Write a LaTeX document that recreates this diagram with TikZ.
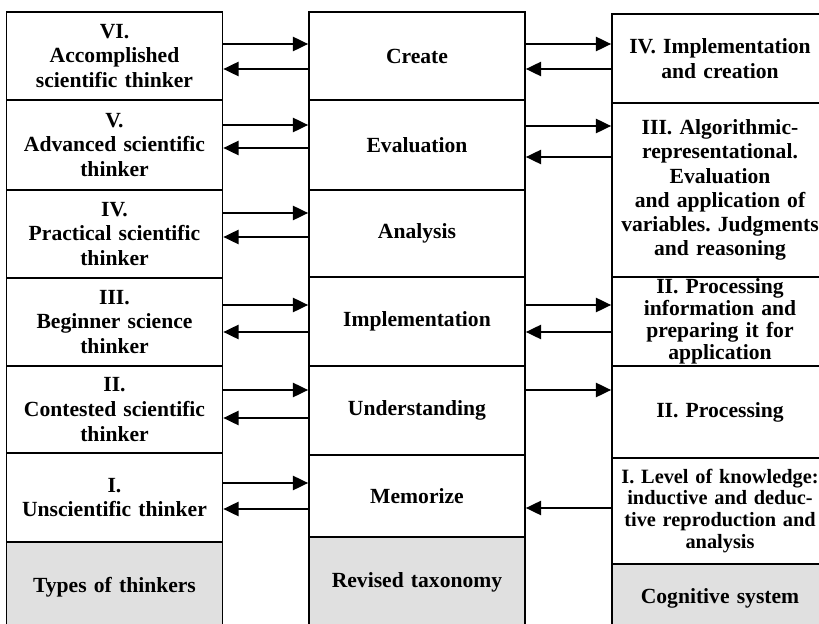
\documentclass[tikz,border=0pt]{standalone}
\usepackage{fontspec}
\setmainfont{Liberation Serif}
\usetikzlibrary{arrows.meta}
\frenchspacing

\begin{document}
\begin{tikzpicture}[x=0.5556pt,y=-0.5556pt,
  cell/.style={shape=rectangle,draw,line width=1pt,minimum width=120pt,
    inner xsep=0pt,inner ysep=0pt,text width=120pt,align=center,
    font=\fontsize{12}{13.8}\selectfont\bfseries},
  head/.style={cell,fill=black!12},
  conn/.style={-{Triangle[length=8.5pt,width=8pt]},line width=0.9pt}]
\useasboundingbox (0,0) rectangle (819,624);
\clip (0,0) rectangle (819,624);
% types of thinkers
\node(t6) at (114.5,56)[cell,minimum height=48.9pt]  {VI.\\ Accomplished\\ scientific thinker};
\node(t5) at (114.5,145)[cell,minimum height=50pt]   {V.\\ Advanced scientific\\ thinker};
\node(t4) at (114.5,234)[cell,minimum height=48.9pt] {IV.\\ Practical scientific\\ thinker};
\node(t3) at (114.5,322)[cell,minimum height=48.9pt] {III.\\ Beginner science\\ thinker};
\node(t2) at (114.5,409.5)[cell,minimum height=48.3pt] {II.\\ Contested scientific\\ thinker};
\node(t1) at (114.5,497.5)[cell,minimum height=49.4pt] {I.\\ Unscientific thinker};
\node(t0) at (114.5,587)[head,minimum height=50pt]   {Types of thinkers};
% revised taxonomy
\node(r6) at (417,56)[cell,minimum height=48.9pt]    {Create};
\node(r5) at (417,145)[cell,minimum height=50pt]     {Evaluation};
\node(r4) at (417,233.5)[cell,minimum height=48.3pt] {Analysis};
\node(r3) at (417,321.5)[cell,minimum height=49.4pt] {Implementation};
\node(r2) at (417,410.5)[cell,minimum height=49.4pt] {Understanding};
\node(r1) at (417,496)[cell,minimum height=45.6pt]   {Memorize};
\node(r0) at (417,582)[head,minimum height=50pt]     {Revised taxonomy};
% cognitive system
\node(c4) at (720,58.5)[cell,minimum height=49.4pt]  {IV. Implementation\\ and creation};
\node(c3) at (720,190)[cell,minimum height=96.7pt,font=\fontsize{12}{13.4}\selectfont\bfseries]
  {III. Algorithmic-\\ representational.\\ Evaluation\\ and application of\\ variables. Judgments\\ and reasoning};
\node(c2b) at (720,321.5)[cell,minimum height=49.4pt,font=\fontsize{12}{12.2}\selectfont\bfseries]
  {II. Processing\\ information and\\ preparing it for\\ application};
\node(c2) at (720,412)[cell,minimum height=51.1pt]   {II. Processing};
\node(c1) at (720,511)[cell,minimum height=58.9pt,font=\fontsize{11.3}{12.2}\selectfont\bfseries]
  {I. Level of knowledge:\\ inductive and deduc-\\ tive reproduction and\\ analysis};
\node(c0) at (720,598)[head,minimum height=37.8pt]   {Cognitive system};
\path [conn]
  (t6.east |- 0,44)  edge (r6.west |- 0,44)
  (r6.west |- 0,69)  edge (t6.east |- 0,69)
  (t5.east |- 0,125) edge (r5.west |- 0,125)
  (r5.west |- 0,148) edge (t5.east |- 0,148)
  (t4.east |- 0,213) edge (r4.west |- 0,213)
  (r4.west |- 0,237) edge (t4.east |- 0,237)
  (t3.east |- 0,305) edge (r3.west |- 0,305)
  (r3.west |- 0,332) edge (t3.east |- 0,332)
  (t2.east |- 0,390) edge (r2.west |- 0,390)
  (r2.west |- 0,418) edge (t2.east |- 0,418)
  (t1.east |- 0,483) edge (r1.west |- 0,483)
  (r1.west |- 0,509) edge (t1.east |- 0,509)
  (r6.east |- 0,44)  edge (c4.west |- 0,44)
  (c4.west |- 0,69)  edge (r6.east |- 0,69)
  (r5.east |- 0,126) edge (c3.west |- 0,126)
  (c3.west |- 0,157) edge (r5.east |- 0,157)
  (r3.east |- 0,305) edge (c2b.west |- 0,305)
  (c2b.west |- 0,332) edge (r3.east |- 0,332)
  (r2.east |- 0,390) edge (c2.west |- 0,390)
  (c1.west |- 0,508) edge (r1.east |- 0,508);
\end{tikzpicture}
\end{document}
